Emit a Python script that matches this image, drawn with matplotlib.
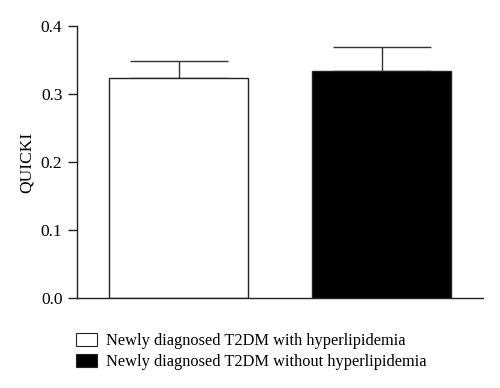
import numpy as np
import matplotlib.pyplot as plt
from matplotlib.patches import Patch

# Data
groups = ['Newly diagnosed T2DM with hyperlipidemia',
          'Newly diagnosed T2DM without hyperlipidemia']
quicki = [0.323, 0.334]
sem = [0.025, 0.035]
colors = ['white', 'black']

plt.rcParams['font.family'] = ['Liberation Serif', 'DejaVu Serif']

fig = plt.figure(figsize=(5, 3.88), dpi=100)
ax = fig.add_axes([0.154, 0.2327, 0.812, 0.70])

x = np.arange(len(quicki))
ax.bar(x, quicki, width=0.68, color=colors, edgecolor='#222222', linewidth=1.0,
       zorder=2)
ax.errorbar(x, quicki, yerr=[np.zeros(len(sem)), sem], fmt='none',
            ecolor='#333333', elinewidth=1.0, capsize=35, capthick=1.0, zorder=1)

ax.set_xlim(-0.5, 1.5)
ax.set_ylim(0, 0.4)
ax.set_yticks([0.0, 0.1, 0.2, 0.3, 0.4])
ax.set_yticklabels(['0.0', '0.1', '0.2', '0.3', '0.4'], fontsize=12.5)
ax.set_xticks([])
ax.set_ylabel('QUICKI', fontsize=12.5, labelpad=4)
ax.tick_params(axis='y', direction='out', length=6.5, width=1.0, pad=4,
               color='#222222')
for s in ['top', 'right']:
    ax.spines[s].set_visible(False)
for s in ['left', 'bottom']:
    ax.spines[s].set_linewidth(1.0)
    ax.spines[s].set_color('#222222')

handles = [Patch(facecolor=c, edgecolor='#222222', linewidth=0.8) for c in colors]
fig.legend(handles, groups, loc='upper left', bbox_to_anchor=(0.139, 0.158),
           frameon=False, fontsize=11.8, handlelength=1.3, handleheight=0.8,
           handletextpad=0.5, labelspacing=0.3, borderaxespad=0)

fig.savefig('out.png', dpi=100)
